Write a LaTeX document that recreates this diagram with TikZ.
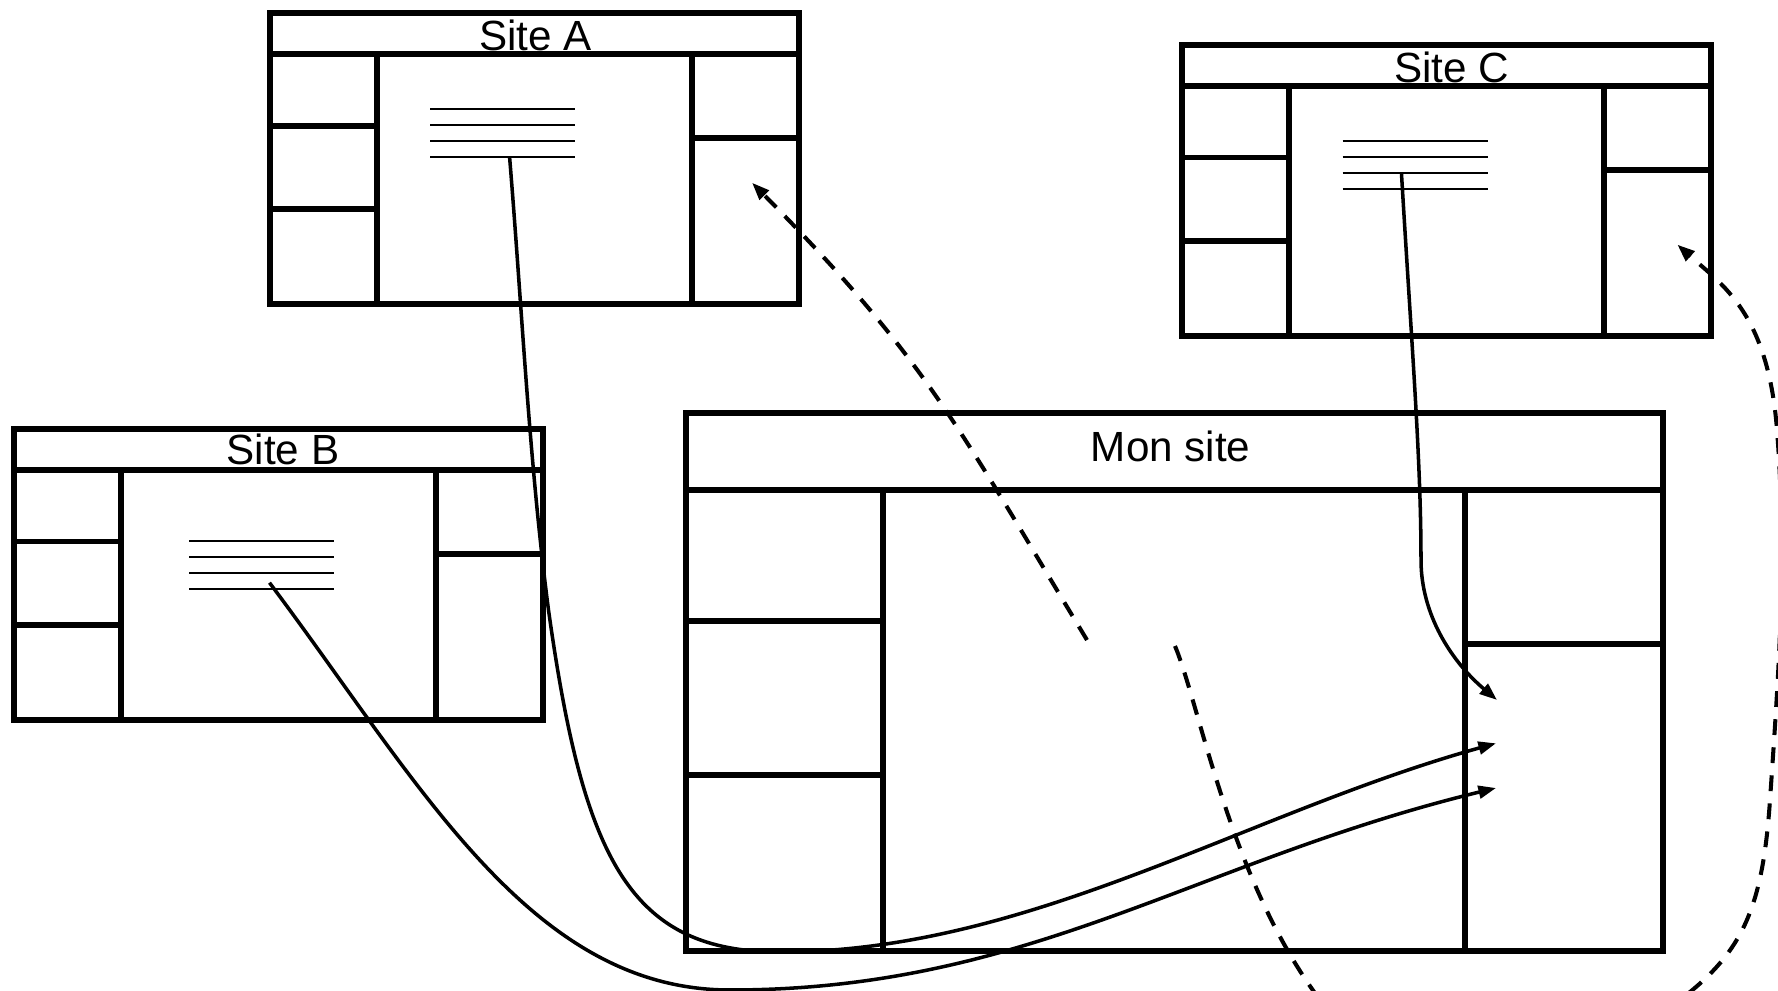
\documentclass[tikz,border=0pt]{standalone}
\usepackage{fontspec}
\setmainfont{Liberation Sans}
\usetikzlibrary{arrows.meta}
\tikzset{
  frame/.style={line width=1.7pt, line join=miter},
  textline/.style={line width=0.55pt},
  title/.style={anchor=base, inner sep=0pt, font=\fontsize{12}{14}\selectfont},
  conn/.style={line width=1pt, -{Triangle[length=5pt,width=3.6pt]}},
  dconn/.style={line width=1.15pt, dash pattern=on 4.5pt off 3.5pt, -{Triangle[length=5pt,width=3.6pt]}}
}
\newcommand{\sitepage}[3]{%
  \begin{scope}[shift={#1}]
    \draw[frame] (0,0) rectangle (529,291);
    \draw[frame] (0,41) -- (529,41) (107,41) -- (107,291) (422,41) -- (422,291)
      (0,112.5) -- (107,112.5) (0,195.7) -- (107,195.7) (422,125) -- (529,125);
    \foreach \k in {0,16,32,48} \draw[textline] (#2,#3+\k) -- (#2+145,#3+\k);
  \end{scope}}
\begin{document}
\begin{tikzpicture}[x=0.01cm,y=-0.01cm]
\useasboundingbox (0,0) rectangle (1778,991);
\begin{scope}
\clip (0,0) rectangle (1778,991);
% pages
\sitepage{(269.6,13.3)}{160.5}{96}
\sitepage{(14.3,429)}{175}{112}
\sitepage{(1182,45)}{160.5}{96}
% Mon site
\draw[frame] (686,413) rectangle (1663,951);
\draw[frame] (686,490) -- (1663,490) (883.4,490) -- (883.4,951) (1465,490) -- (1465,951)
  (686,621.2) -- (883.4,621.2) (686,775.2) -- (883.4,775.2) (1465,644) -- (1663,644);
% titles
\node[title] (tA) at (535.7,50.7) {Site A};
\node[title] (tB) at (283,464.3) {Site B};
\node[title] (tC) at (1451.7,82.3) {Site C};
\node[title] (tM) at (1170.7,461.5) {Mon site};
% anchors
\coordinate (A-src) at (509.6,157.3);
\coordinate (B-src) at (269.5,582.7);
\coordinate (C-src) at (1401.5,174);
\coordinate (M-in1) at (1497,700);
\coordinate (M-in2) at (1496,743.3);
\coordinate (M-in3) at (1496,788);
\coordinate (M-out1) at (1087,640);
\coordinate (M-out2) at (1175,646);
\coordinate (A-in) at (752,182.7);
\coordinate (C-in) at (1677.3,244.6);
% solid connectors
\draw[conn] (A-src) .. controls (522,308) and (529,460) .. (548.5,610)
  .. controls (583.5,860) and (630,952) .. (780,952)
  .. controls (1030,952) and (1245,813) .. (M-in2);
\draw[conn] (B-src) .. controls (419.4,782.7) and (530,990) .. (730,990)
  .. controls (1030,990) and (1195,861) .. (M-in3);
\draw[conn] (C-src) .. controls (1412,350) and (1421,460) .. (1421,560)
  .. controls (1421,615) and (1452,662) .. (M-in1);
% dashed connectors
\draw[dconn] (M-out1) .. controls (957.5,426) and (927,360) .. (A-in);
\draw[dconn] (M-out2) .. controls (1200,706) and (1230,880) .. (1320,1000)
  .. controls (1401,1108) and (1609,1058) .. (1690,992)
  .. controls (1745,947) and (1763,902) .. (1770,800)
  .. controls (1778.9,670) and (1787,560) .. (1777,430)
  .. controls (1768,313) and (1722,284.6) .. (C-in);
\end{scope}
\end{tikzpicture}
\end{document}
